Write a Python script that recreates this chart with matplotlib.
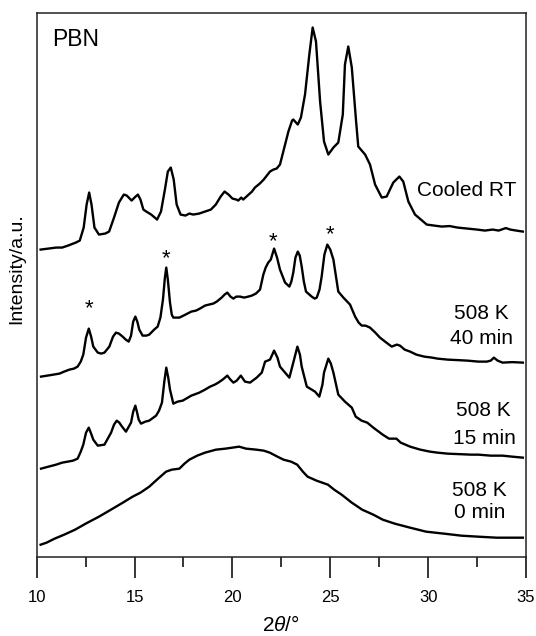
import matplotlib
matplotlib.use("Agg")
import matplotlib.pyplot as plt
from matplotlib.ticker import MultipleLocator

plt.rcParams['font.family'] = ['Liberation Sans', 'DejaVu Sans']
plt.rcParams['mathtext.fontset'] = 'custom'
plt.rcParams['mathtext.rm'] = 'Liberation Sans'
plt.rcParams['mathtext.it'] = 'Liberation Sans:italic'

# XRD traces (2theta in deg, intensity in arbitrary units, stacked)
tt_rt = [10.2, 10.6, 11.0, 11.3, 11.6, 12.0, 12.2, 12.4, 12.55, 12.68, 12.8, 12.95, 13.18,
         13.5, 13.7, 13.95, 14.2, 14.45, 14.6, 14.85, 15.0, 15.17, 15.3, 15.45, 15.6, 15.85,
         16.15, 16.35, 16.55, 16.7, 16.85, 17.0, 17.15, 17.35, 17.6, 17.8, 18.0, 18.3, 18.6,
         18.9, 19.15, 19.4, 19.6, 19.8, 20.0, 20.2, 20.3, 20.45, 20.55, 21.0, 21.15, 21.4,
         21.6, 21.92, 22.1, 22.26, 22.43, 22.6, 22.86, 23.05, 23.11, 23.34, 23.5, 23.71,
         23.93, 24.1, 24.27, 24.48, 24.68, 24.9, 25.16, 25.41, 25.64, 25.75, 25.92, 26.1,
         26.32, 26.43, 26.78, 27.03, 27.29, 27.63, 27.88, 28.22, 28.53, 28.73, 28.99, 29.33,
         29.93, 30.3, 30.7, 31.1, 31.5, 32.0, 32.5, 32.9, 33.3, 33.6, 33.97, 34.2, 34.5, 34.84]
int_rt = [307, 308, 309, 309, 311, 314, 316, 329, 352, 364, 352, 329, 322,
          323, 325, 339, 354, 362, 361, 356, 359, 362, 357, 347, 345, 342,
          337, 345, 367, 385, 389, 377, 352, 342, 341, 343, 342, 343, 345,
          347, 352, 360, 365, 362, 358, 357, 356, 359, 357, 365, 369, 373,
          377, 385, 387, 388, 392, 405, 425, 436, 437, 432, 439, 462,
          502, 529, 515, 455, 415, 402, 409, 414, 442, 492, 510, 489,
          435, 410, 402, 392, 372, 359, 360, 374, 380, 375, 355, 342,
          332, 331, 330, 330.5, 329, 328, 327, 326, 327, 326, 328.5, 327, 326, 325]

tt_40 = [10.22, 10.7, 11.16, 11.4, 11.67, 11.9, 12.09, 12.25, 12.38, 12.52, 12.66, 12.78,
         12.89, 13.12, 13.3, 13.46, 13.71, 13.9, 14.05, 14.2, 14.39, 14.55, 14.7, 14.82,
         14.93, 15.04, 15.14, 15.24, 15.41, 15.6, 15.75, 16.0, 16.18, 16.32, 16.45, 16.55,
         16.62, 16.7, 16.81, 16.9, 16.98, 17.29, 17.5, 17.7, 17.9, 18.14, 18.34, 18.6, 18.8,
         19.02, 19.2, 19.45, 19.6, 19.74, 19.9, 20.05, 20.2, 20.39, 20.6, 20.81, 20.99, 21.2,
         21.41, 21.58, 21.7, 21.83, 21.96, 22.13, 22.28, 22.43, 22.69, 22.91, 23.01, 23.11,
         23.22, 23.34, 23.44, 23.54, 23.65, 23.76, 24.05, 24.2, 24.31, 24.45, 24.56, 24.7,
         24.85, 25.0, 25.16, 25.3, 25.41, 25.67, 26.01, 26.27, 26.45, 26.61, 26.8, 27.03,
         27.3, 27.54, 27.8, 28.14, 28.4, 28.56, 28.8, 29.08, 29.4, 29.8, 30.2, 30.48, 31.0,
         31.5, 32.0, 32.57, 33.0, 33.2, 33.36, 33.55, 33.8, 34.3, 34.84]
int_40 = [180, 181.5, 183, 185, 187, 188, 190, 195, 202, 219, 228, 220,
          210, 204, 203, 204, 210, 220, 224, 223, 220, 217, 215, 221,
          235, 240, 235, 227, 221, 221, 222, 227, 230, 239, 257, 279,
          289, 277, 254, 242, 239, 239, 241, 243, 245, 246, 248, 251, 252,
          253, 255, 259, 262, 264, 260, 258, 260, 260, 259, 260, 261, 263,
          267, 282, 289, 294, 297, 308, 299, 287, 274, 270, 275, 284,
          299, 305, 301, 290, 275, 265, 260, 258, 259, 267, 280, 302,
          312, 307, 297, 279, 265, 259, 252, 240, 234, 231, 231, 229,
          224, 219, 215, 210, 212, 211, 207, 205, 202, 200, 199, 198, 197,
          196.5, 196, 195, 195, 196, 199, 196, 194, 194.5, 194]

tt_15 = [10.22, 10.6, 10.99, 11.3, 11.58, 11.85, 12.09, 12.25, 12.38, 12.52, 12.66, 12.78,
         12.89, 13.12, 13.46, 13.8, 13.95, 14.09, 14.22, 14.36, 14.56, 14.82, 14.93, 15.04,
         15.13, 15.21, 15.33, 15.55, 15.75, 16.1, 16.25, 16.4, 16.52, 16.62, 16.72, 16.81,
         16.98, 17.2, 17.46, 17.9, 18.31, 18.6, 18.86, 19.1, 19.28, 19.5, 19.74, 19.9, 20.05,
         20.22, 20.43, 20.64, 20.9, 21.24, 21.5, 21.67, 21.8, 21.92, 22.13, 22.3, 22.43,
         22.69, 22.91, 23.11, 23.32, 23.45, 23.54, 23.8, 24.22, 24.44, 24.6, 24.68, 24.9,
         25.03, 25.16, 25.41, 25.75, 26.1, 26.3, 26.6, 26.89, 27.2, 27.68, 28.0, 28.38, 28.6,
         29.08, 29.6, 30.1, 30.48, 31.0, 31.6, 32.2, 32.57, 33.2, 33.8, 34.3, 34.84]
int_15 = [88, 90, 92, 94, 95, 96, 98, 105, 112, 124, 129, 123,
          117, 111, 112, 124, 132, 136, 134, 130, 125, 134, 145, 151,
          144, 137, 133, 135, 136, 141, 146, 154, 175, 189, 179, 167,
          153, 155, 156, 161, 164, 167, 170, 172, 174, 177, 181, 177, 174,
          176, 181, 175, 174, 179, 184, 195, 196, 197, 206, 199, 190,
          184, 179, 194, 210, 202, 190, 170, 165, 160, 172, 184, 198,
          193, 184, 162, 155, 149, 140, 136, 134, 129, 122, 118, 118, 114,
          110, 107, 105, 104, 103, 102.5, 102, 102, 101, 101, 100, 99]

tt_0 = [10.2, 10.5, 10.91, 11.4, 11.96, 12.5, 13.18, 13.88, 14.4, 14.9, 15.3, 15.75, 16.2,
        16.61, 16.9, 17.29, 17.55, 17.8, 18.2, 18.6, 19.16, 19.64, 20.0, 20.34, 20.7, 21.22,
        21.6, 21.91, 22.3, 22.61, 23.0, 23.31, 23.6, 23.84, 24.3, 24.88, 25.2, 25.58, 26.1,
        26.63, 27.2, 27.68, 28.3, 29.08, 29.9, 30.83, 31.7, 32.57, 33.5, 34.84]
int_0 = [12, 14, 18, 22, 27, 33, 40, 48, 54, 60, 64, 70, 78,
         85, 87, 88, 93, 97, 101, 104, 107, 108, 109, 110, 108, 107,
         106, 104, 100, 97, 95, 92, 85, 80, 76, 72, 67, 62, 54,
         47, 42, 37, 33, 29, 25, 23, 21, 20, 19, 19]

# asterisk markers (2theta, height)
star_tt = [12.66, 16.62, 22.09, 25.0]
star_int = [255, 305, 322, 329]

fig = plt.figure(figsize=(5.36, 6.36), dpi=100)
ax = fig.add_axes([0.0685, 0.1247, 0.9128, 0.8541])

for tt, inten in [(tt_rt, int_rt), (tt_40, int_40), (tt_15, int_15), (tt_0, int_0)]:
    ax.plot(tt, inten, color='black', lw=1.7, solid_joinstyle='round')

for x, y in zip(star_tt, star_int):
    ax.text(x, y - 13, '*', fontsize=16, ha='center', va='baseline')

ax.text(10.77, 510, 'PBN', fontsize=16.5, ha='left', va='baseline')
ax.text(31.95, 361, 'Cooled RT', fontsize=15, ha='center', va='baseline')
ax.text(32.73, 238, '508 K', fontsize=15, ha='center', va='baseline')
ax.text(32.73, 213, '40 min', fontsize=15, ha='center', va='baseline')
ax.text(32.82, 141, '508 K', fontsize=15, ha='center', va='baseline')
ax.text(32.88, 113, '15 min', fontsize=15, ha='center', va='baseline')
ax.text(32.6, 61, '508 K', fontsize=15, ha='center', va='baseline')
ax.text(32.64, 39, '0 min', fontsize=15, ha='center', va='baseline')

ax.set_xlim(10, 35)
ax.set_ylim(0, 543)
ax.xaxis.set_major_locator(MultipleLocator(5))
ax.xaxis.set_minor_locator(MultipleLocator(2.5))
ax.tick_params(axis='x', which='major', direction='out', length=15, width=1.1, pad=9,
               labelsize=12, top=False)
ax.tick_params(axis='x', which='minor', direction='out', length=7.5, width=1.1, top=False)
ax.set_yticks([])

for s in ax.spines.values():
    s.set_linewidth(1.1)
    s.set_color('#222222')

ax.set_xlabel(r'$\mathit{2\theta}$/°', fontsize=15)
ax.xaxis.set_label_coords(0.5, -0.126)
ax.xaxis.label.set_va('center')
ax.set_ylabel('Intensity/a.u.', fontsize=14)
ax.yaxis.set_label_coords(-0.041, 0.53)
ax.yaxis.label.set_va('center')

fig.savefig('out.png', dpi=100)
